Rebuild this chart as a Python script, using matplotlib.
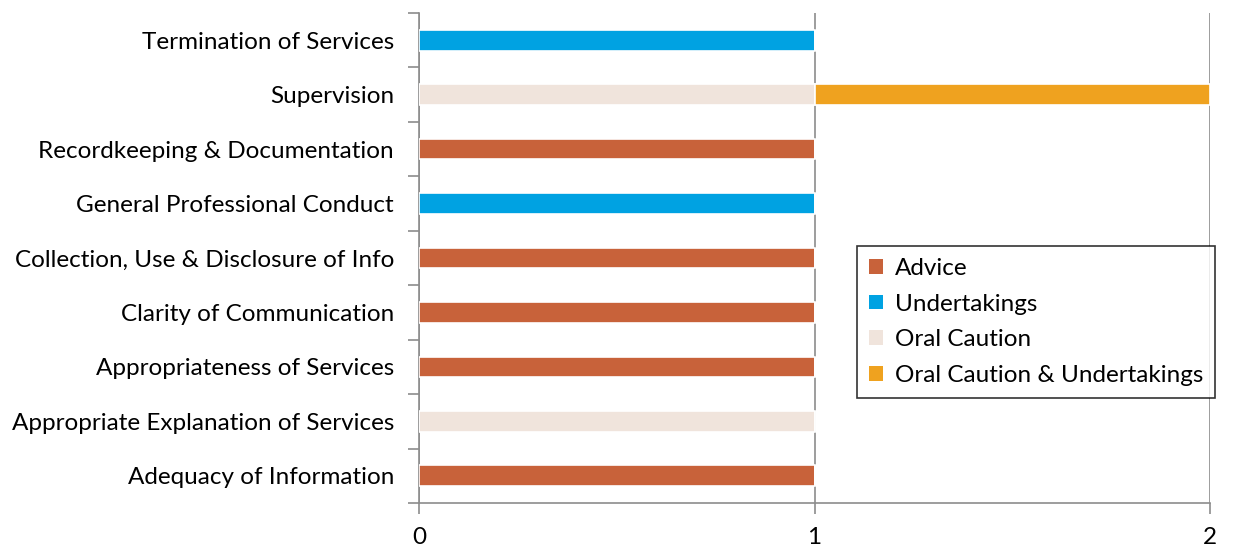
import numpy as np
import matplotlib
matplotlib.use('Agg')
import matplotlib.pyplot as plt
from matplotlib.ticker import FixedLocator, NullFormatter

# ---------- data ----------
categories = ['Adequacy of Information',
              'Appropriate Explanation of Services',
              'Appropriateness of Services',
              'Clarity of Communication',
              'Collection, Use & Disclosure of Info',
              'General Professional Conduct',
              'Recordkeeping & Documentation',
              'Supervision',
              'Termination of Services']
series_names = ['Advice', 'Undertakings', 'Oral Caution', 'Oral Caution & Undertakings']
advice = [1, 0, 1, 1, 1, 0, 1, 0, 0]
undertakings = [0, 0, 0, 0, 0, 1, 0, 0, 1]
oral_caution = [0, 1, 0, 0, 0, 0, 0, 1, 0]
oral_caution_undertakings = [0, 0, 0, 0, 0, 0, 0, 1, 0]
x_ticks = [0, 1, 2]

COLORS = ['#C8623A', '#00A2E2', '#F0E4DC', '#EFA21F']
GREY = '#8C8C8C'
FS = 17.5

plt.rcParams['font.family'] = ['Lato', 'DejaVu Sans']

fig = plt.figure(figsize=(12.38, 5.5), dpi=100)
ax = fig.add_axes([419 / 1238, 1 - 503 / 550, (1210 - 419) / 1238, (503 - 13) / 550])

y = np.arange(len(categories))
left = np.zeros(len(categories))
for name, vals, col in zip(series_names,
                           [advice, undertakings, oral_caution, oral_caution_undertakings],
                           COLORS):
    vals = np.array(vals, dtype=float)
    ax.barh(y, vals, left=left, height=0.38, color=col, edgecolor='white',
            linewidth=1.2, label=name, zorder=3)
    left += vals

ax.set_xlim(0, 2)
ax.set_ylim(-0.5, len(categories) - 0.5)
ax.set_xticks(x_ticks)
ax.set_xticklabels([str(t) for t in x_ticks], fontsize=FS)
ax.set_yticks(y)
ax.set_yticklabels(categories, fontsize=FS)
ax.yaxis.set_minor_locator(FixedLocator(np.arange(-0.5, len(categories), 1)))
ax.yaxis.set_minor_formatter(NullFormatter())
ax.tick_params(axis='y', which='major', length=0, pad=18)
ax.tick_params(axis='y', which='minor', length=8, color=GREY, width=1.2)
ax.tick_params(axis='x', length=8, color=GREY, width=1.2, pad=9)

ax.grid(axis='x', color=GREY, linewidth=1.2, zorder=0)
for s in ['top', 'right']:
    ax.spines[s].set_visible(False)
for s in ['left', 'bottom']:
    ax.spines[s].set_color(GREY)
    ax.spines[s].set_linewidth(1.2)

leg = ax.legend(loc='upper left', bbox_to_anchor=((857 - 419) / 791, 1 - (246 - 13) / 490),
                fontsize=FS, frameon=True, fancybox=False, handlelength=0.55,
                handleheight=0.55, handletextpad=0.5, labelspacing=0.6,
                borderpad=0.5, borderaxespad=0)
leg.get_frame().set_edgecolor('black')
leg.get_frame().set_linewidth(1.2)
for h in leg.legend_handles:
    h.set_edgecolor('none')

fig.savefig('out.png', dpi=100)
